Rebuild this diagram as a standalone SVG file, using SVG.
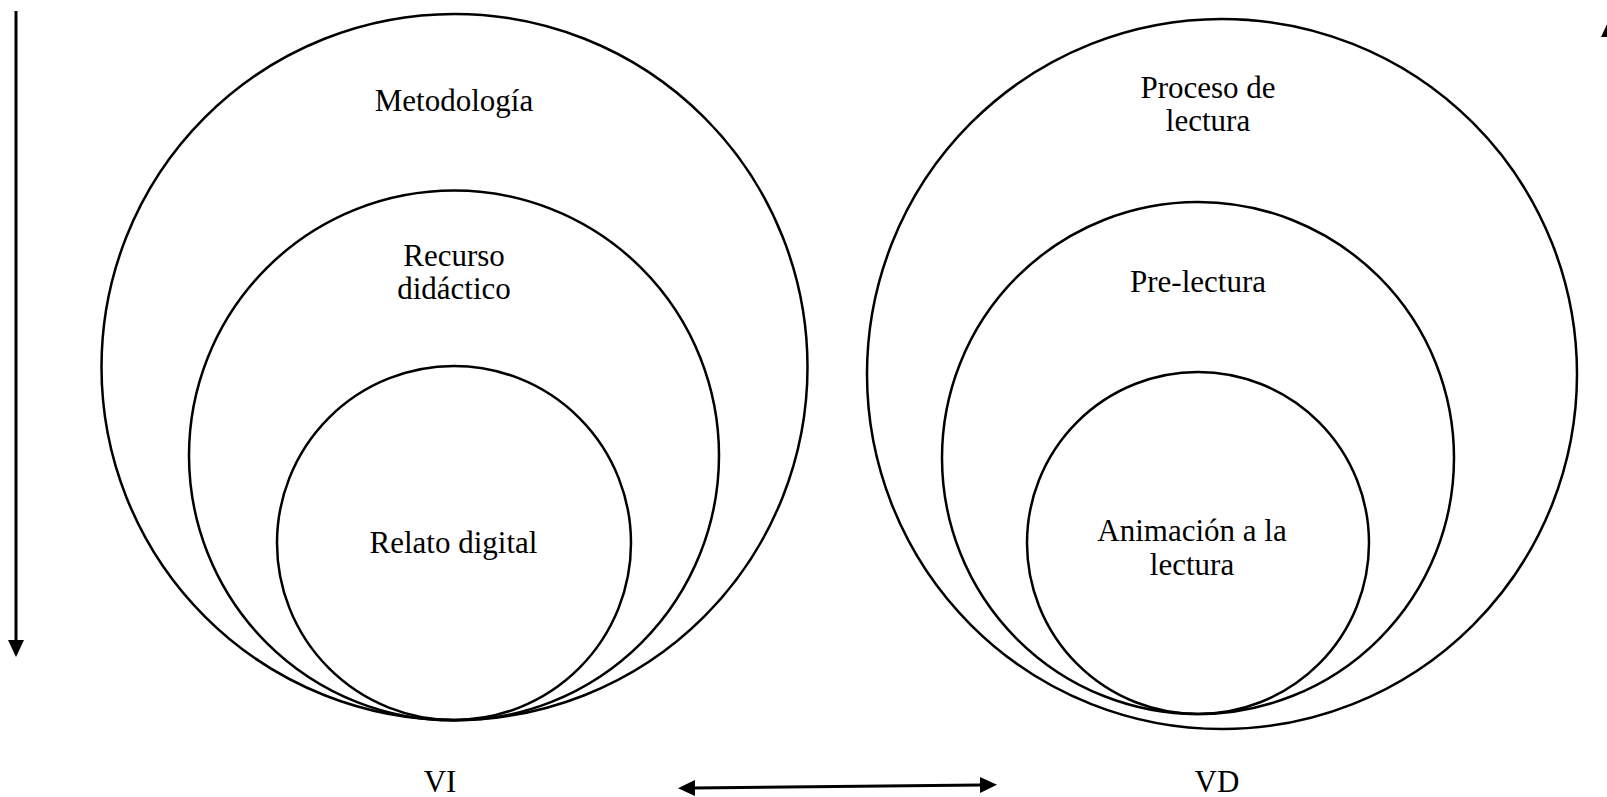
<svg xmlns="http://www.w3.org/2000/svg" width="1607" height="797" viewBox="0 0 1607 797">
<style>
.c{fill:none;stroke:#000;stroke-width:2.5}
.t{font-family:'Liberation Serif','DejaVu Serif','Times New Roman',serif;font-size:31px;fill:#000;text-anchor:middle}
.a{stroke:#000;stroke-width:3;fill:none}
</style>
<defs>
<marker id="ah" markerUnits="userSpaceOnUse" markerWidth="18" markerHeight="16" refX="1" refY="8" orient="auto-start-reverse">
<path d="M0,0 L17,8 L0,16 Z" fill="#000"/>
</marker>
</defs>
<rect width="1607" height="797" fill="#fff"/>
<g id="vi-metodologia"><circle class="c" cx="454.5" cy="367" r="353"/><text class="t" x="454" y="111">Metodología</text></g>
<g id="vi-recurso"><circle class="c" cx="454" cy="455.5" r="265"/><text class="t" x="454" y="266">Recurso</text><text class="t" x="454" y="299">didáctico</text></g>
<g id="vi-relato"><circle class="c" cx="454" cy="543" r="177"/><text class="t" x="453.5" y="553">Relato digital</text></g>
<g id="vd-proceso"><circle class="c" cx="1222" cy="374" r="355"/><text class="t" x="1208" y="98">Proceso de</text><text class="t" x="1208" y="131">lectura</text></g>
<g id="vd-prelectura"><circle class="c" cx="1198" cy="458" r="256"/><text class="t" x="1198" y="292">Pre-lectura</text></g>
<g id="vd-animacion"><circle class="c" cx="1198" cy="543" r="171"/><text class="t" x="1192" y="541">Animación a la</text><text class="t" x="1192" y="575">lectura</text></g>
<g id="vi-label"><text class="t" x="440" y="792">VI</text></g>
<g id="vd-label"><text class="t" x="1217" y="792">VD</text></g>
<g id="connectors">
<line class="a" x1="16" y1="11" x2="16" y2="641" marker-end="url(#ah)"/>
<line class="a" x1="1609" y1="657" x2="1609" y2="36" marker-end="url(#ah)"/>
<line class="a" x1="694" y1="788" x2="981" y2="785" marker-start="url(#ah)" marker-end="url(#ah)"/>
</g>
</svg>
